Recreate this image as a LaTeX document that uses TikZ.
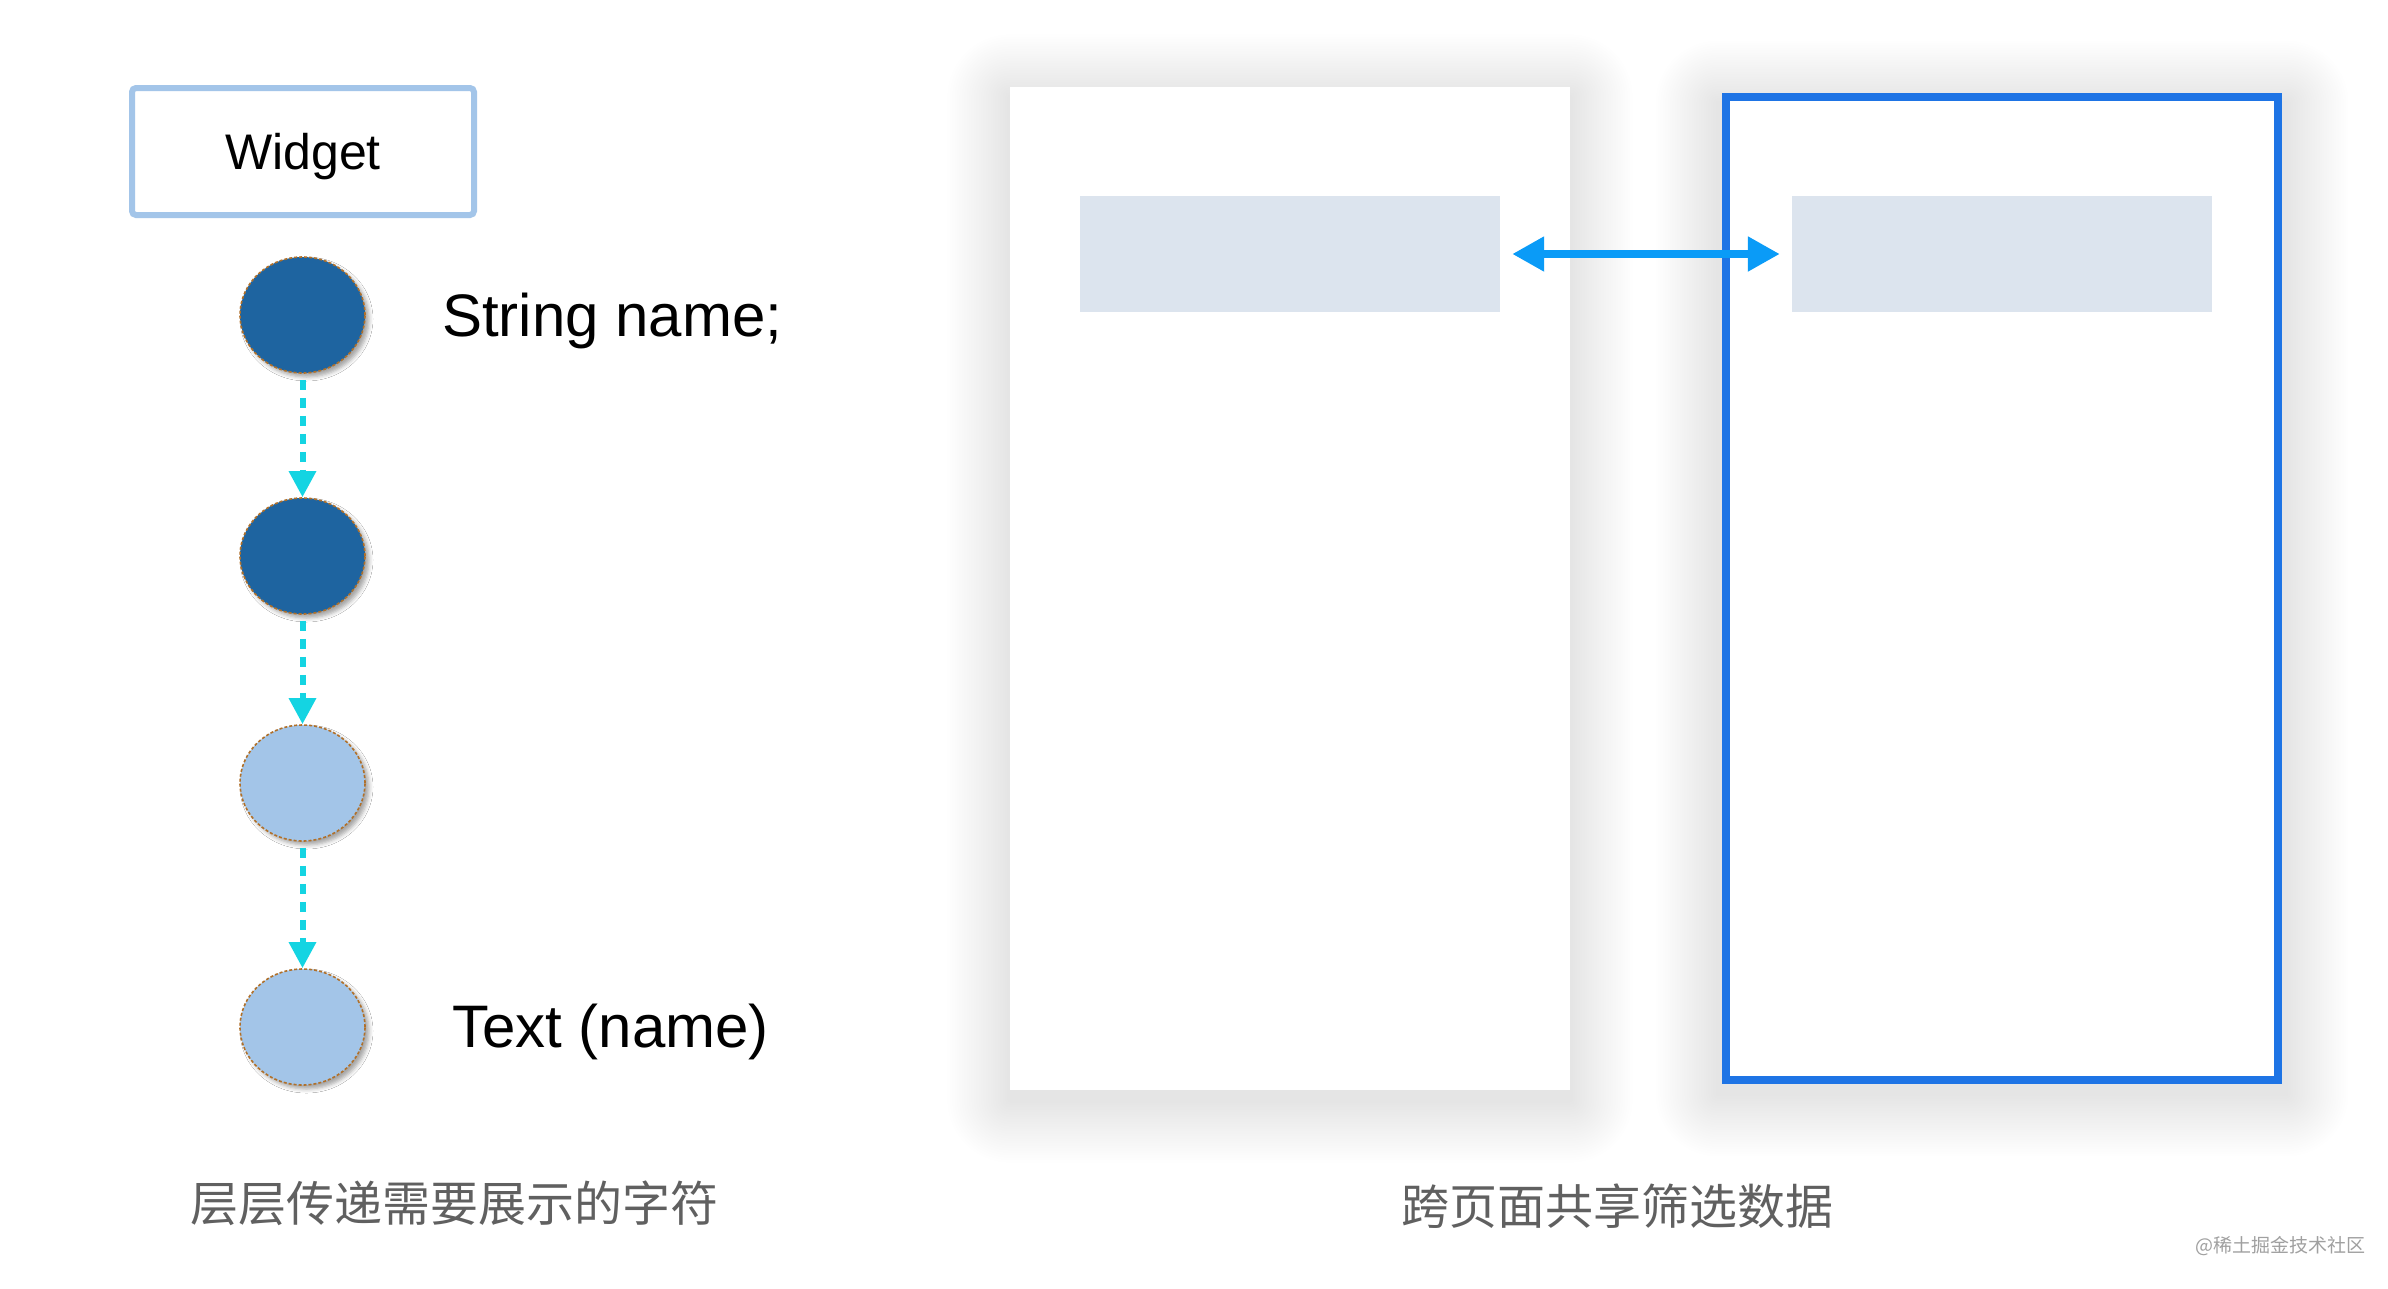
\documentclass[tikz,border=0pt]{standalone}
\usepackage{fontspec}
\setmainfont{Liberation Sans}
\newfontfamily\cjk{Noto Sans CJK SC}
\usetikzlibrary{arrows.meta,shapes.geometric,shadows.blur,backgrounds}
\definecolor{wbox}{HTML}{A3C5E9}
\definecolor{darkc}{HTML}{1E64A0}
\definecolor{lightc}{HTML}{A3C5E8}
\definecolor{dotbrown}{HTML}{B0702A}
\definecolor{cyanarrow}{HTML}{14D4E2}
\definecolor{pagefill}{HTML}{DCE4EE}
\definecolor{bluepage}{HTML}{1E74E5}
\definecolor{sharrow}{HTML}{0A9BF7}
\definecolor{captiongray}{HTML}{606060}
\definecolor{wmgray}{HTML}{A0A0A0}
\tikzset{
  widgetbox/.style={draw=wbox, line width=6pt, rounded corners=4pt, fill=white,
    minimum width=342pt, minimum height=127pt, inner sep=0pt, text depth=0pt,
    font=\fontsize{50pt}{60pt}\selectfont},
  layer/.style={ellipse, draw=dotbrown, line width=1.6pt, dash pattern=on 3pt off 2pt,
    minimum width=125pt, minimum height=116pt, inner sep=0pt,
    blur shadow={shadow xshift=4pt, shadow yshift=-4pt, shadow blur radius=4pt, shadow opacity=35}},
  darklayer/.style={layer, fill=darkc},
  lightlayer/.style={layer, fill=lightc},
  passarrow/.style={draw=cyanarrow, line width=6pt, dash pattern=on 10pt off 8pt,
    -{Triangle[width=26pt,length=26pt]}, shorten <=6pt},
  codetext/.style={anchor=west, inner sep=0pt, font=\fontsize{60pt}{72pt}\selectfont},
  pagebox/.style={fill=white, inner sep=0pt},
  filterbar/.style={fill=pagefill, inner sep=0pt, minimum width=420pt, minimum height=116pt},
  sharearrow/.style={draw=sharrow, line width=8pt,
    {Triangle[width=33pt,length=32pt]}-{Triangle[width=33pt,length=32pt]},
    shorten <=12pt, shorten >=12pt},
  caption/.style={anchor=west, inner sep=0pt, text=captiongray, font=\cjk\fontsize{48pt}{58pt}\selectfont},
  softshade/.style={fill=black, opacity=0.0048}
}
\begin{document}
\begin{tikzpicture}[x=1pt,y=-1pt]
\useasboundingbox (0,0) rectangle (2388,1288);

% left part
\node[widgetbox] (w) at (303,151.5) {Widget};
\node[darklayer] (c1) at (302.5,315) {};
\node[darklayer] (c2) at (302.5,556) {};
\node[lightlayer] (c3) at (302.5,783) {};
\node[lightlayer] (c4) at (302.5,1027) {};
\draw[passarrow] (c1.south) -- (c2.north);
\draw[passarrow] (c2.south) -- (c3.north);
\draw[passarrow] (c3.south) -- (c4.north);
\node[codetext] (sn) at (442,321) {String name;};
\node[codetext] (tn) at (452,1032) {Text (name)};
\node[caption] (cap1) at (190,1203) {层层传递需要展示的字符};

% right part
\node[pagebox, minimum width=560pt, minimum height=1003pt] (p1) at (1290,588.5) {};
\node[pagebox, draw=bluepage, line width=8pt, minimum width=552pt, minimum height=983pt] (p2) at (2002,588.5) {};
\node[filterbar] (r1) at (1290,254) {};
\node[filterbar] (r2) at (2002,254) {};
\draw[sharearrow] (r1.east) -- (r2.west);
\node[caption] (cap2) at (1401,1206) {跨页面共享筛选数据};

\node[anchor=west, inner sep=0pt, text=wmgray, font=\cjk\fontsize{19pt}{22pt}\selectfont] (wm) at (2195,1246) {@稀土掘金技术社区};

\begin{scope}[on background layer]
\fill[white] (0,0) rectangle (2388,1288);
\foreach \i in {1,...,26} {
  \fill[softshade, rounded corners=\i*2.4pt]
    ([xshift=-\i*2.4pt, yshift=\i*2.4pt-10pt]p1.north west) rectangle ([xshift=\i*2.4pt, yshift=-\i*2.4pt-10pt]p1.south east);
  \fill[softshade, rounded corners=\i*2.4pt]
    ([xshift=-\i*2.4pt-4pt, yshift=\i*2.4pt-10pt]p2.north west) rectangle ([xshift=\i*2.4pt+4pt, yshift=-\i*2.4pt-10pt]p2.south east);
}
\end{scope}
\end{tikzpicture}
\end{document}
